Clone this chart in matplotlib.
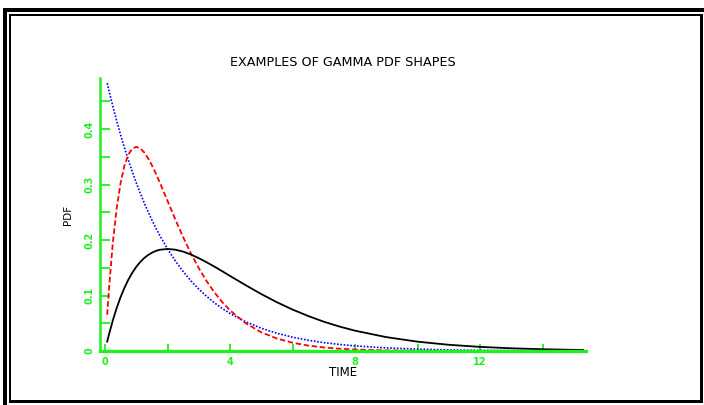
import matplotlib
matplotlib.use("Agg")
import matplotlib.pyplot as plt
from matplotlib.patches import Rectangle
from matplotlib.ticker import MultipleLocator, FixedLocator

# sampled gamma pdf curves (shape/scale: 1/2, 2/1, 2/2)
t = [0.07, 0.125, 0.25, 0.375, 0.5, 0.625, 0.75, 0.875, 1.0, 1.125, 1.25,
     1.375, 1.5, 1.625, 1.75, 2.0, 2.25, 2.5, 2.75, 3.0, 3.25, 3.5, 3.75,
     4.0, 4.5, 5.0, 5.5, 6.0, 6.5, 7.0, 7.5, 8.0, 9.0, 10.0, 11.0, 12.0,
     13.0, 14.0, 15.3]
pdf_blue = [0.4827, 0.4697, 0.4412, 0.4145, 0.3894, 0.3658, 0.3436, 0.3228,
            0.3033, 0.2849, 0.2676, 0.2514, 0.2362, 0.2219, 0.2085, 0.1839,
            0.1623, 0.1433, 0.1264, 0.1116, 0.0985, 0.0869, 0.0767, 0.0677,
            0.0527, 0.0410, 0.0320, 0.0249, 0.0194, 0.0151, 0.0118, 0.0092,
            0.0056, 0.0034, 0.0020, 0.0012, 0.0008, 0.0005, 0.0002]
pdf_red = [0.0653, 0.1103, 0.1947, 0.2577, 0.3033, 0.3346, 0.3543, 0.3648,
           0.3679, 0.3653, 0.3581, 0.3476, 0.3347, 0.3200, 0.3041, 0.2707,
           0.2372, 0.2052, 0.1757, 0.1494, 0.1261, 0.1057, 0.0881, 0.0733,
           0.0500, 0.0337, 0.0225, 0.0149, 0.0098, 0.0064, 0.0041, 0.0027,
           0.0011, 0.0005, 0.0002, 0.0001, 0.0, 0.0, 0.0]
pdf_black = [0.0169, 0.0294, 0.0552, 0.0777, 0.0974, 0.1143, 0.1289, 0.1412,
             0.1516, 0.1603, 0.1673, 0.1728, 0.1771, 0.1803, 0.1824, 0.1839,
             0.1826, 0.1791, 0.1738, 0.1673, 0.1600, 0.1521, 0.1438, 0.1353,
             0.1186, 0.1026, 0.0879, 0.0747, 0.0631, 0.0528, 0.0441, 0.0366,
             0.0250, 0.0168, 0.0112, 0.0074, 0.0049, 0.0032, 0.0018]

x_labelled = [0, 4, 8, 12]
x_minor = [2, 6, 10, 14]

W, H = 704, 405
GREEN = "#22ee22"

fig = plt.figure(figsize=(W / 100, H / 100), dpi=100)


def box(x0, y0, x1, y1):
    # pixel box (top-left origin) -> black rectangle in figure coords
    fig.add_artist(Rectangle((x0 / W, 1 - y1 / H), (x1 - x0) / W, (y1 - y0) / H,
                             transform=fig.transFigure, color="black", lw=0))


# double frame: heavy top/left band plus a thin inner box
box(3, 8, 704, 12)
box(3, 8, 7, 405)
box(9, 14, 702, 16)
box(9, 14, 11, 403)
box(700, 14, 703, 403)
box(9, 400, 703, 403)

ax = fig.add_axes([100 / W, 1 - 351 / H, 486 / W, 273 / H])
ax.set_xlim(-0.16, 15.39)
ax.set_ylim(0, 0.492)

ax.plot(t, pdf_blue, color="blue", lw=1.2, ls=(0, (1, 1)))
ax.plot(t, pdf_red, color="red", lw=1.3, ls=(0, (3, 1.5)))
ax.plot(t, pdf_black, color="black", lw=1.3)

for s in ["top", "right"]:
    ax.spines[s].set_visible(False)
ax.spines["left"].set_color(GREEN)
ax.spines["left"].set_linewidth(1.8)
ax.spines["bottom"].set_color(GREEN)
ax.spines["bottom"].set_linewidth(2.4)

ax.xaxis.set_major_locator(FixedLocator(x_labelled))
ax.xaxis.set_minor_locator(FixedLocator(x_minor))
ax.set_xticklabels([str(v) for v in x_labelled])
ax.yaxis.set_major_locator(MultipleLocator(0.1))
ax.yaxis.set_minor_locator(MultipleLocator(0.05))
ax.yaxis.set_major_formatter(lambda v, p: "0" if v == 0 else f"{v:.1f}")

ax.tick_params(axis="both", which="both", direction="in", color=GREEN,
               width=1.3, labelcolor=GREEN, labelsize=7)
ax.tick_params(axis="x", which="both", length=5, pad=4)
ax.tick_params(axis="y", which="both", length=7, pad=4)
for lab in ax.get_yticklabels():
    lab.set_rotation(90)
    lab.set_va("center")
    lab.set_fontweight("bold")
for lab in ax.get_xticklabels():
    lab.set_fontweight("bold")

fig.text(343 / W, 1 - 62 / H, "EXAMPLES OF GAMMA PDF SHAPES", ha="center",
         va="center", fontsize=9.2)
fig.text(68 / W, 1 - 215 / H, "PDF", ha="center", va="center", fontsize=7.5,
         rotation=90)
fig.text(343 / W, 1 - 373 / H, "TIME", ha="center", va="center", fontsize=8.5)

fig.savefig("out.png", dpi=100)
